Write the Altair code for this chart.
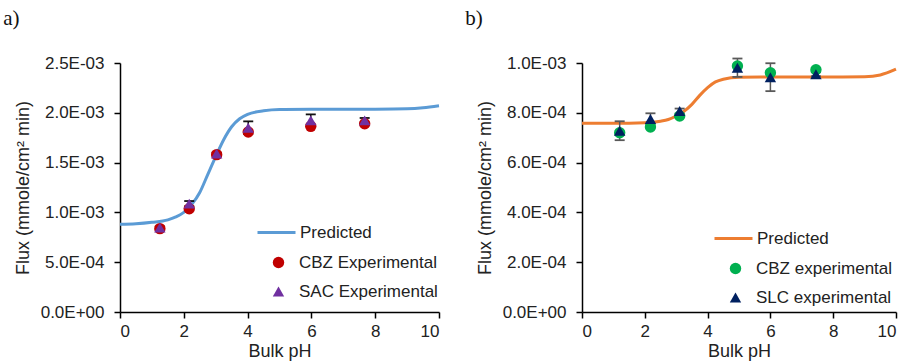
import altair as alt
import pandas as pd

# ---------- Panel a data ----------
curve_ph_a = [0, 0.5, 1, 1.5, 1.75, 2, 2.25, 2.5, 2.75, 3, 3.25, 3.5, 3.75, 4, 4.5, 5, 6, 7, 8, 9, 9.5, 10]
curve_flux_a = [0.000880, 0.000885, 0.000900, 0.000925, 0.000955, 0.001000, 0.001080, 0.001200,
                0.001380, 0.001560, 0.001730, 0.001860, 0.001940, 0.001985, 0.002020, 0.002033,
                0.002035, 0.002035, 0.002036, 0.002040, 0.002050, 0.002070]
ph_a = [1.25, 2.17, 3.03, 4.02, 5.98, 7.67]
cbz_a = [0.000837, 0.001037, 0.001580, 0.001807, 0.001864, 0.001890]
sac_a = [0.000847, 0.001088, 0.001590, 0.001850, 0.001924, 0.001924]
sac_err_a = [0.000012, 0.000026, 0.000010, 0.000064, 0.000060, 0.000024]
legend_a = ["Predicted", "CBZ Experimental", "SAC Experimental"]
colors_a = ["#5B9BD5", "#C00000", "#7030A0"]

# ---------- Panel b data ----------
curve_ph_b = [0, 1, 2, 2.5, 2.75, 3, 3.25, 3.5, 3.75, 4, 4.25, 4.5, 5, 6, 7, 8, 9, 9.5, 10]
curve_flux_b = [0.000758, 0.000758, 0.000760, 0.000766, 0.000773, 0.000787, 0.000806, 0.000834,
                0.000870, 0.000901, 0.000924, 0.000935, 0.000943, 0.000944, 0.000944, 0.000944,
                0.000945, 0.000952, 0.000975]
ph_b = [1.2, 2.18, 3.11, 4.95, 6.0, 7.45]
cbz_b = [0.000720, 0.000743, 0.000787, 0.000988, 0.000961, 0.000973]
slc_b = [0.000728, 0.000775, 0.000807, 0.000981, 0.000943, 0.000955]
slc_err_b = [0.000038, 0.000023, 0.000010, 0.000037, 0.000056, 0.000008]
legend_b = ["Predicted", "CBZ experimental", "SLC experimental"]
colors_b = ["#ED7D31", "#00B050", "#002060"]

x_ticks = [0, 2, 4, 6, 8, 10]
y_ticks_a = [0, 0.0005, 0.001, 0.0015, 0.002, 0.0025]
y_ticks_b = [0, 0.0002, 0.0004, 0.0006, 0.0008, 0.001]

FONT = "Liberation Sans"
LABEL_EXPR = ("datum.value == 0 ? '0.0E+00' : "
              "format(datum.value / pow(10, floor(log(datum.value) / LN10 + 1e-9)), '.1f') + 'E-0' + "
              "(-floor(log(datum.value) / LN10 + 1e-9))")
Y_TITLE = "Flux (mmole/cm² min)"


def panel(curve_ph, curve_flux, ph, cbz, other, other_err, names, colors, yticks,
          ymax, err_color, tag, width, leg_x, leg_y):
    curve_df = pd.DataFrame({"pH": curve_ph, "flux": curve_flux, "line_series": names[0]})
    cbz_df = pd.DataFrame({"pH": ph, "flux": cbz, "series": names[1]})
    oth_df = pd.DataFrame({"pH": ph, "flux": other, "series": names[2]})
    err_df = pd.DataFrame({"pH": ph,
                           "lo": [v - e for v, e in zip(other, other_err)],
                           "hi": [v + e for v, e in zip(other, other_err)]})

    xenc = alt.X("pH:Q", scale=alt.Scale(domain=[0, 10], nice=False),
                 axis=alt.Axis(values=x_ticks, title="Bulk pH", format="d", titlePadding=3,
                               labelPadding=5))
    yscale = alt.Scale(domain=[0, ymax], nice=False)
    yaxis = alt.Axis(values=yticks, title=Y_TITLE, labelExpr=LABEL_EXPR, labelPadding=10)

    stroke = alt.Stroke("line_series:N", scale=alt.Scale(domain=[names[0]], range=[colors[0]]),
                        legend=alt.Legend(title=None, orient="none", legendX=leg_x, legendY=leg_y,
                                          labelFont=FONT, labelFontSize=17, labelColor="#222",
                                          symbolType="stroke", symbolSize=1444,
                                          symbolStrokeWidth=3, labelOffset=3))
    color = alt.Color("series:N", scale=alt.Scale(domain=names[1:], range=colors[1:]),
                      legend=alt.Legend(title=None, orient="none", legendX=leg_x + 14,
                                        legendY=leg_y + 42,
                                        labelFont=FONT, labelFontSize=17, labelColor="#222",
                                        symbolSize=130, rowPadding=11, labelOffset=12))
    shape = alt.Shape("series:N", scale=alt.Scale(domain=names[1:], range=["circle", "triangle-up"]))

    line = alt.Chart(curve_df).mark_line(strokeWidth=3, interpolate="monotone").encode(
        x=xenc, y=alt.Y("flux:Q", scale=yscale, axis=yaxis), stroke=stroke)
    c1 = alt.Chart(cbz_df).mark_point(filled=True, opacity=1, size=130).encode(
        x="pH:Q", y="flux:Q", color=color, shape=shape)
    c2 = alt.Chart(oth_df).mark_point(filled=True, opacity=1, size=130).encode(
        x="pH:Q", y="flux:Q", color=color, shape=shape)
    rule = alt.Chart(err_df).mark_rule(color=err_color, strokeWidth=1.5).encode(
        x="pH:Q", y="lo:Q", y2="hi:Q")
    cap_lo = alt.Chart(err_df).mark_point(shape="stroke", size=100, color=err_color,
                                          strokeWidth=1.8, opacity=1).encode(x="pH:Q", y="lo:Q")
    cap_hi = alt.Chart(err_df).mark_point(shape="stroke", size=100, color=err_color,
                                          strokeWidth=1.8, opacity=1).encode(x="pH:Q", y="hi:Q")

    return alt.layer(line, rule, cap_lo, cap_hi, c1, c2).properties(
        width=width, height=249,
        title=alt.TitleParams(tag, anchor="start", frame="bounds", font="Liberation Serif",
                              fontSize=21, fontWeight="normal", color="#111", dx=-11, offset=25))


pa = panel(curve_ph_a, curve_flux_a, ph_a, cbz_a, sac_a, sac_err_a, legend_a, colors_a,
           y_ticks_a, 0.0025, "#111111", "a)", 319, 136, 149)
pb = panel(curve_ph_b, curve_flux_b, ph_b, cbz_b, slc_b, slc_err_b, legend_b, colors_b,
           y_ticks_b, 0.001, "#595959", "b)", 314, 131, 155)

chart = alt.hconcat(pa, pb, spacing=143, bounds="flush").resolve_scale(
    color="independent", shape="independent", stroke="independent").resolve_legend(
    color="independent", shape="independent", stroke="independent").properties(
    padding={"left": 3, "top": 8, "right": 5, "bottom": 2}, background="white"
).configure_view(stroke=None).configure_axis(
    labelFont=FONT, titleFont=FONT, labelFontSize=17, titleFontSize=18,
    titleFontWeight="normal", labelColor="#222", titleColor="#222",
    domainColor="#000", tickColor="#000", domainWidth=1.5, tickWidth=1.5, tickSize=6,
    grid=False, titlePadding=8
)

chart.save("out.html", embed_options={"renderer": "svg", "actions": False})
